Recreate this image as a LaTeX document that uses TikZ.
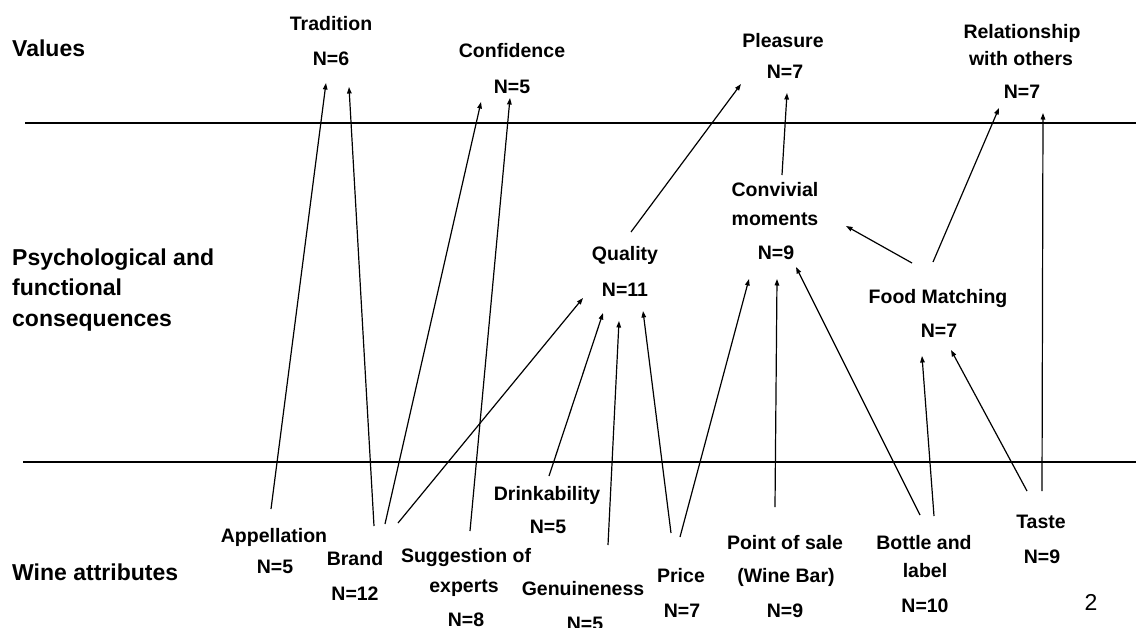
\documentclass[tikz,border=0pt]{standalone}
\usepackage{fontspec}
\setmainfont{Liberation Sans}
\usetikzlibrary{arrows.meta,calc}
\begin{document}
\begin{tikzpicture}[x=1pt,y=-1pt,
  lbl/.style={anchor=base,inner sep=0pt,font=\fontsize{19.5}{24}\selectfont\bfseries},
  lvl/.style={anchor=base west,inner sep=0pt,font=\fontsize{23}{28}\selectfont\bfseries},
  arr/.style={line width=1.2pt,-{Triangle[length=6.5pt,width=4.5pt]}},
  sep/.style={line width=1.3pt}]
\useasboundingbox (0,0) rectangle (1136,627);
% level labels
\node[lvl] (values) at (12,56) {Values};
\node[lvl] (psy1) at (12,265) {Psychological and};
\node[lvl] (psy2) at (12,295) {functional};
\node[lvl] (psy3) at (12,326) {consequences};
\node[lvl] (wine) at (12,580) {Wine attributes};
% separators
\coordinate (s1a) at (25,123); \coordinate (s1b) at (1136,123);
\coordinate (s2a) at (23,462); \coordinate (s2b) at (1136,462);
\draw[sep] (s1a) -- (s1b);
\draw[sep] (s2a) -- (s2b);
% values
\node[lbl] (trad) at (331,30) {Tradition};
\node[lbl] (tradN) at (331,65) {N=6};
\node[lbl] (conf) at (512,57) {Confidence};
\node[lbl] (confN) at (512,93) {N=5};
\node[lbl] (pleas) at (783,47) {Pleasure};
\node[lbl] (pleasN) at (785,78) {N=7};
\node[lbl] (rel) at (1022,38) {Relationship};
\node[lbl] (rel2) at (1021,65) {with others};
\node[lbl] (relN) at (1022,98) {N=7};
% consequences
\node[lbl] (conv) at (775,196) {Convivial};
\node[lbl] (convM) at (775,225) {moments};
\node[lbl] (convN) at (776,259) {N=9};
\node[lbl] (qual) at (625,260) {Quality};
\node[lbl] (qualN) at (625,296) {N=11};
\node[lbl] (food) at (938,303) {Food Matching};
\node[lbl] (foodN) at (939,337) {N=7};
% attributes
\node[lbl] (drink) at (547,500) {Drinkability};
\node[lbl] (drinkN) at (548,533) {N=5};
\node[lbl] (appel) at (274,542) {Appellation};
\node[lbl] (appelN) at (275,573) {N=5};
\node[lbl] (brand) at (355,565) {Brand};
\node[lbl] (brandN) at (355,600) {N=12};
\node[lbl] (sugg) at (466,562) {Suggestion of};
\node[lbl] (sugg2) at (464,592) {experts};
\node[lbl] (suggN) at (466,626) {N=8};
\node[lbl] (genu) at (583,595) {Genuineness};
\node[lbl] (genuN) at (585,630) {N=5};
\node[lbl] (price) at (681,582) {Price};
\node[lbl] (priceN) at (682,617) {N=7};
\node[lbl] (pos) at (785,549) {Point of sale};
\node[lbl] (pos2) at (786,582) {(Wine Bar)};
\node[lbl] (posN) at (785,617) {N=9};
\node[lbl] (bottle) at (924,549) {Bottle and};
\node[lbl] (bottle2) at (925,577) {label};
\node[lbl] (bottleN) at (925,612) {N=10};
\node[lbl] (taste) at (1041,528) {Taste};
\node[lbl] (tasteN) at (1042,563) {N=9};
\node[anchor=base,inner sep=0pt,font=\fontsize{23}{28}\selectfont] (page) at (1091,610) {2};
% connectors
\draw[arr] ($(appel.base)+(-3,-33)$) -- ($(tradN.base)+(-5,18)$);
\draw[arr] ($(brand.base)+(19,-39)$) -- ($(tradN.base)+(18,22)$);
\draw[arr] ($(brand.base)+(30,-41)$) -- ($(confN.base)+(-31,9)$);
\draw[arr] ($(brand.base)+(43,-42)$) -- ($(qualN.base)+(-42,2)$);
\draw[arr] ($(sugg.base)+(4,-31)$) -- ($(confN.base)+(-2,5)$);
\draw[arr] ($(drink.base)+(2,-24)$) -- ($(qualN.base)+(-22,17)$);
\draw[arr] ($(genu.base)+(25,-50)$) -- ($(qualN.base)+(-6,25)$);
\draw[arr] ($(price.base)+(-10,-49)$) -- ($(qualN.base)+(18,15)$);
\draw[arr] ($(price.base)+(-1,-45)$) -- ($(convN.base)+(-27,20)$);
\draw[arr] ($(pos.base)+(-10,-42)$) -- ($(convN.base)+(1,20)$);
\draw[arr] ($(bottle.base)+(-4,-34)$) -- ($(convN.base)+(20,8)$);
\draw[arr] ($(bottle.base)+(10,-33)$) -- ($(foodN.base)+(-17,19)$);
\draw[arr] ($(taste.base)+(-14,-37)$) -- ($(foodN.base)+(12,13)$);
\draw[arr] ($(taste.base)+(1,-37)$) -- ($(relN.base)+(21,15)$);
\draw[arr] ($(food.base)+(-26,-40)$) -- ($(convM.base)+(71,1)$);
\draw[arr] ($(food.base)+(-5,-41)$) -- ($(relN.base)+(-23,10)$);
\draw[arr] ($(qual.base)+(6,-28)$) -- ($(pleasN.base)+(-44,6)$);
\draw[arr] ($(conv.base)+(7,-21)$) -- ($(pleasN.base)+(2,15)$);
\end{tikzpicture}
\end{document}
